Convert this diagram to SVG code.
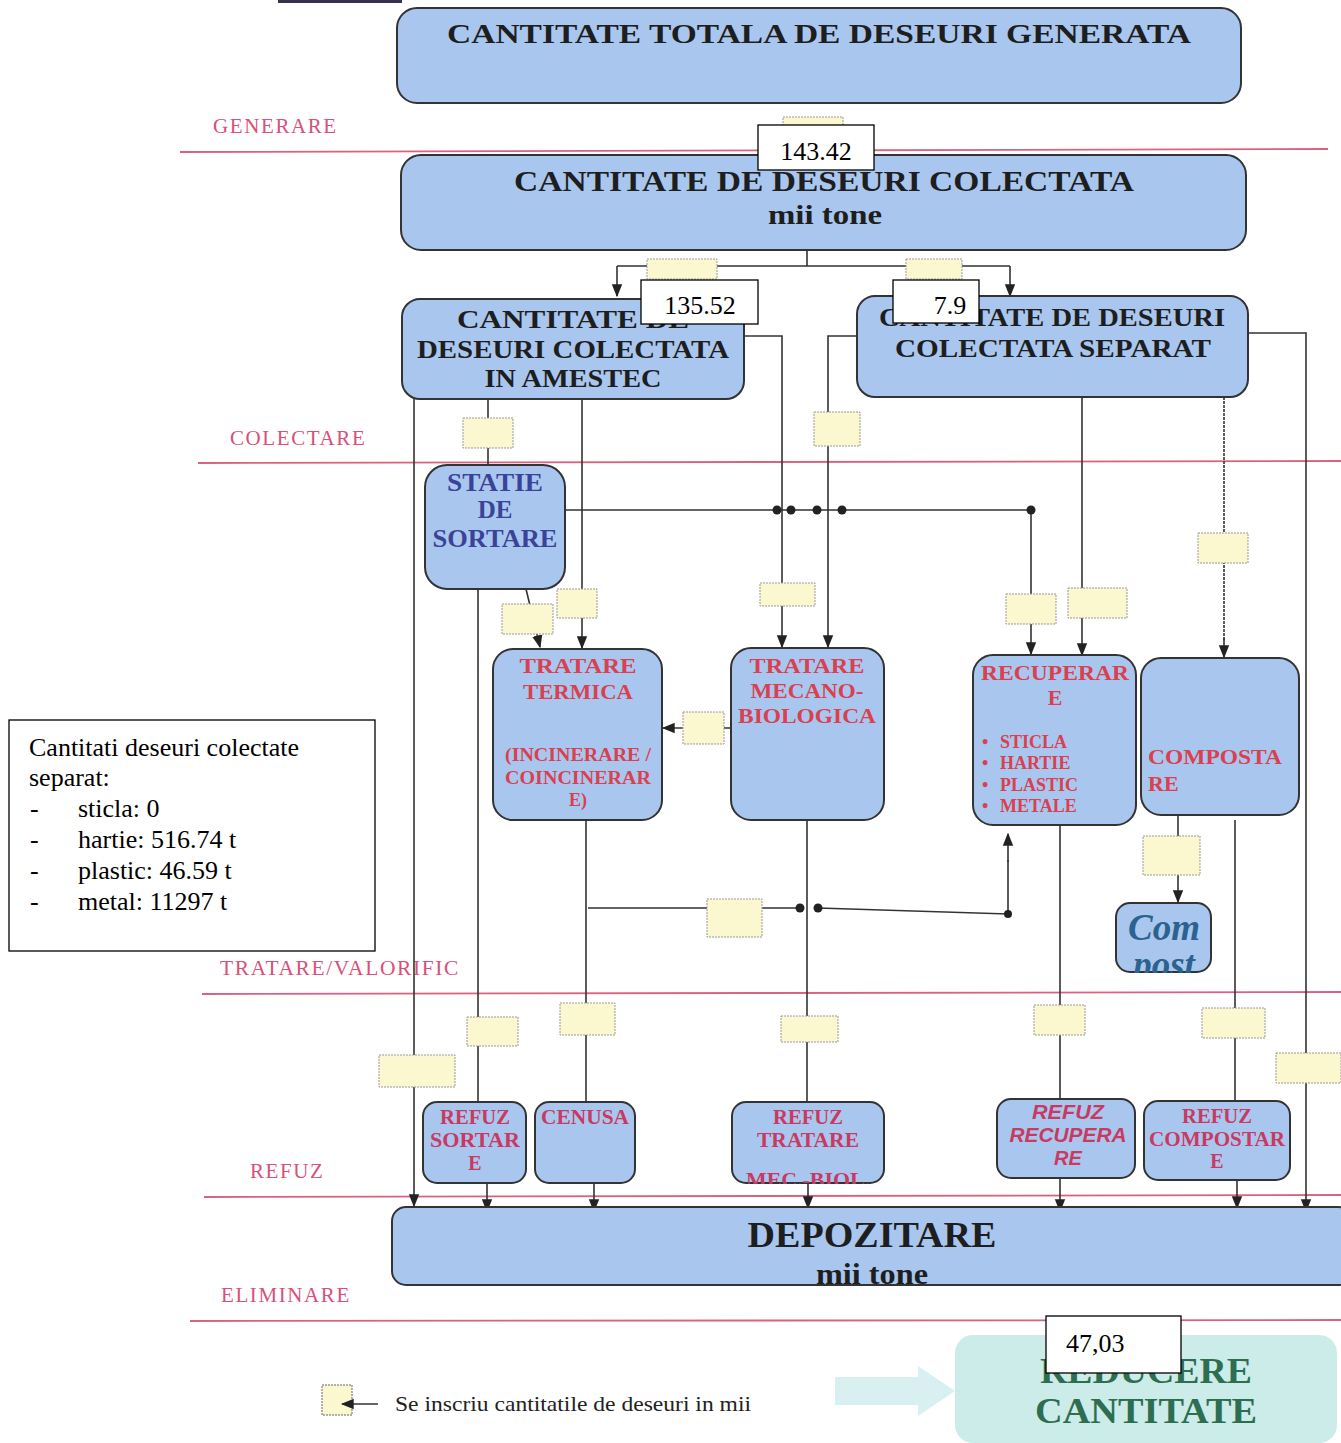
<svg xmlns="http://www.w3.org/2000/svg" width="1341" height="1443" viewBox="0 0 1341 1443">
<style>
.box{fill:#a9c7ee;stroke:#333;stroke-width:2}
.yb{fill:#fbf8d0;stroke:#999;stroke-width:1;stroke-dasharray:2 1}
.wl{fill:#fff;stroke:#000;stroke-width:1.3}
.ln{fill:none;stroke:#333;stroke-width:1.6}
.pk{stroke:#dc6080;stroke-width:1.8}
.stage{font-family:"Liberation Serif",serif;font-size:21px;letter-spacing:1.6px;fill:#d9507a}
.tb{font-family:"Liberation Serif",serif;font-weight:bold;fill:#1e1e1e;text-anchor:middle}
.red{font-family:"Liberation Serif",serif;font-weight:bold;fill:#d94050;text-anchor:middle}
.bl{font-family:"Liberation Serif",serif;font-weight:bold;fill:#d94050;font-size:18px}
.mag{font-family:"Liberation Serif",serif;font-weight:bold;fill:#c83a62;text-anchor:middle;font-size:20px}
.magi{font-family:"Liberation Sans",sans-serif;font-weight:bold;font-style:italic;fill:#c83a62;text-anchor:middle;font-size:20px}
.num{font-family:"Liberation Serif",serif;font-size:26px;fill:#000}
.note{font-family:"Liberation Serif",serif;font-size:26px;fill:#000}
.dot{fill:#222}
</style>
<defs>
<marker id="ar2" viewBox="0 0 10 10" refX="9" refY="5" markerWidth="13" markerHeight="13" orient="auto" markerUnits="userSpaceOnUse">
<path d="M0,1 L10,5 L0,9 z" fill="#222"/>
</marker>
<clipPath id="cpComp"><rect x="1116" y="903" width="96" height="70" rx="14"/></clipPath>
<clipPath id="cpRef"><rect x="732" y="1102" width="152" height="82" rx="14"/></clipPath>
<clipPath id="cpDep"><rect x="392" y="1207" width="960" height="78" rx="14"/></clipPath>
</defs>
<rect width="1341" height="1443" fill="#fff"/>
<rect x="278" y="0" width="124" height="3" fill="#3a3050"/>

<g id="stages">
<line class="pk" x1="180" y1="152" x2="1328" y2="149"/>
<line class="pk" x1="198" y1="463" x2="1341" y2="461"/>
<line class="pk" x1="202" y1="994" x2="1341" y2="992"/>
<line class="pk" x1="204" y1="1197" x2="1341" y2="1195"/>
<line class="pk" x1="190" y1="1321" x2="1341" y2="1320"/>
<text class="stage" x="213" y="133">GENERARE</text>
<text class="stage" x="230" y="445">COLECTARE</text>
<text class="stage" x="220" y="975" textLength="240" lengthAdjust="spacingAndGlyphs">TRATARE/VALORIFIC</text>
<text class="stage" x="250" y="1178">REFUZ</text>
<text class="stage" x="221" y="1302">ELIMINARE</text>
</g>

<g id="connectors">
<path class="ln" d="M807,250 V266 M617,266 H1010"/>
<path class="ln" d="M617,266 V296" marker-end="url(#ar2)"/>
<path class="ln" d="M1010,266 V296" marker-end="url(#ar2)"/>
<path class="ln" d="M414,399 V1206" marker-end="url(#ar2)"/>
<path class="ln" d="M488,399 V465"/>
<path class="ln" d="M582,399 V648" marker-end="url(#ar2)"/>
<path class="ln" d="M744,336 H782 V647" marker-end="url(#ar2)"/>
<path class="ln" d="M857,336 H828 V647" marker-end="url(#ar2)"/>
<path class="ln" d="M1082,397 V655" marker-end="url(#ar2)"/>
<path class="ln" d="M1224,397 V640" stroke-dasharray="3 1"/>
<path class="ln" d="M1224,638 V657" marker-end="url(#ar2)"/>
<path class="ln" d="M1248,333 H1306 V1211" marker-end="url(#ar2)"/>
<path class="ln" d="M565,510 H1031 V654" stroke-width="1.3" marker-end="url(#ar2)"/>
<circle class="dot" cx="777" cy="510" r="4.5"/><circle class="dot" cx="791" cy="510" r="4.5"/><circle class="dot" cx="817" cy="510" r="4.5"/><circle class="dot" cx="842" cy="510" r="4.5"/><circle class="dot" cx="1031" cy="510" r="4.5"/>
<path class="ln" d="M478,589 V1102"/>
<path class="ln" d="M526,589 L540,647" marker-end="url(#ar2)"/>
<path class="ln" d="M731,728 H663" marker-end="url(#ar2)"/>
<path class="ln" d="M586,820 V1102"/>
<path class="ln" d="M588,908 H800 M818,908 L1008,914 V860" stroke-width="1.3"/>
<path class="ln" d="M1008,862 V834" marker-end="url(#ar2)"/>
<circle class="dot" cx="800" cy="908" r="4.5"/><circle class="dot" cx="818" cy="908" r="4.5"/><circle class="dot" cx="1008" cy="914" r="4"/>
<path class="ln" d="M807,820 V1102"/>
<path class="ln" d="M1060,825 V1099"/>
<path class="ln" d="M1178,815 V902" marker-end="url(#ar2)"/>
<path class="ln" d="M1235,820 V1101"/>
<path class="ln" d="M487,1183 V1211" marker-end="url(#ar2)"/>
<path class="ln" d="M594,1183 V1211" marker-end="url(#ar2)"/>
<path class="ln" d="M808,1183 V1208" marker-end="url(#ar2)"/>
<path class="ln" d="M1060,1178 V1211" marker-end="url(#ar2)"/>
<path class="ln" d="M1237,1180 V1208" marker-end="url(#ar2)"/>
</g>

<g id="qty">
<rect class="yb" x="783" y="117" width="60" height="12"/>
<rect class="yb" x="647" y="259" width="70" height="20"/>
<rect class="yb" x="906" y="259" width="56" height="20"/>
<rect class="yb" x="463" y="418" width="50" height="30"/>
<rect class="yb" x="814" y="412" width="46" height="34"/>
<rect class="yb" x="502" y="604" width="51" height="30"/>
<rect class="yb" x="557" y="589" width="40" height="29"/>
<rect class="yb" x="760" y="583" width="55" height="23"/>
<rect class="yb" x="1006" y="594" width="50" height="30"/>
<rect class="yb" x="1068" y="588" width="59" height="30"/>
<rect class="yb" x="1198" y="533" width="50" height="30"/>
<rect class="yb" x="683" y="712" width="41" height="32"/>
<rect class="yb" x="707" y="899" width="55" height="38"/>
<rect class="yb" x="1143" y="836" width="57" height="39"/>
<rect class="yb" x="379" y="1055" width="76" height="32"/>
<rect class="yb" x="467" y="1017" width="51" height="29"/>
<rect class="yb" x="560" y="1003" width="55" height="32"/>
<rect class="yb" x="781" y="1016" width="57" height="26"/>
<rect class="yb" x="1034" y="1005" width="51" height="30"/>
<rect class="yb" x="1202" y="1008" width="63" height="30"/>
<rect class="yb" x="1276" y="1053" width="65" height="30"/>
</g>

<g id="n-total">
<rect class="box" x="397" y="8" width="844" height="95" rx="20"/>
<text class="tb" x="819" y="43" font-size="28" textLength="744" lengthAdjust="spacingAndGlyphs">CANTITATE TOTALA DE DESEURI GENERATA</text>
</g>

<g id="n-colectata">
<rect class="box" x="401" y="155" width="845" height="95" rx="20"/>
<text class="tb" x="824" y="191" font-size="29" textLength="620" lengthAdjust="spacingAndGlyphs">CANTITATE DE DESEURI COLECTATA</text>
<text class="tb" x="825" y="224" font-size="28" textLength="114" lengthAdjust="spacingAndGlyphs">mii tone</text>
</g>

<g id="n-amestec">
<rect class="box" x="402" y="299" width="342" height="100" rx="18"/>
<text class="tb" x="573" y="328" font-size="26" textLength="232" lengthAdjust="spacingAndGlyphs">CANTITATE DE</text>
<text class="tb" x="573" y="358" font-size="26" textLength="312" lengthAdjust="spacingAndGlyphs">DESEURI COLECTATA</text>
<text class="tb" x="573" y="387" font-size="26" textLength="177" lengthAdjust="spacingAndGlyphs">IN AMESTEC</text>
</g>

<g id="n-separat">
<rect class="box" x="857" y="296" width="391" height="101" rx="18"/>
<text class="tb" x="1052" y="326" font-size="26" textLength="346" lengthAdjust="spacingAndGlyphs">CANTITATE DE DESEURI</text>
<text class="tb" x="1053" y="357" font-size="26" textLength="316" lengthAdjust="spacingAndGlyphs">COLECTATA SEPARAT</text>
</g>

<g id="n-statie">
<rect class="box" x="425" y="465" width="140" height="124" rx="22"/>
<text class="tb" x="495" y="491" font-size="25" style="fill:#3b4399" textLength="96" lengthAdjust="spacingAndGlyphs">STATIE</text>
<text class="tb" x="495" y="518" font-size="25" style="fill:#3b4399">DE</text>
<text class="tb" x="495" y="547" font-size="25" style="fill:#3b4399" textLength="125" lengthAdjust="spacingAndGlyphs">SORTARE</text>
</g>

<g id="n-termica">
<rect class="box" x="493" y="649" width="169" height="171" rx="20"/>
<text class="red" x="578" y="673" font-size="22" textLength="117" lengthAdjust="spacingAndGlyphs">TRATARE</text>
<text class="red" x="578" y="699" font-size="22" textLength="110" lengthAdjust="spacingAndGlyphs">TERMICA</text>
<text class="red" x="578" y="761" font-size="18" textLength="146" lengthAdjust="spacingAndGlyphs">(INCINERARE /</text>
<text class="red" x="578" y="784" font-size="18" textLength="146" lengthAdjust="spacingAndGlyphs">COINCINERAR</text>
<text class="red" x="578" y="806" font-size="18">E)</text>
</g>

<g id="n-mecano">
<rect class="box" x="731" y="648" width="153" height="172" rx="20"/>
<text class="red" x="807" y="673" font-size="22" textLength="115" lengthAdjust="spacingAndGlyphs">TRATARE</text>
<text class="red" x="807" y="698" font-size="22" textLength="113" lengthAdjust="spacingAndGlyphs">MECANO-</text>
<text class="red" x="807" y="723" font-size="22" textLength="138" lengthAdjust="spacingAndGlyphs">BIOLOGICA</text>
</g>

<g id="n-recuperare">
<rect class="box" x="973" y="655" width="163" height="170" rx="20"/>
<text class="red" x="1055" y="680" font-size="22" textLength="148" lengthAdjust="spacingAndGlyphs">RECUPERAR</text>
<text class="red" x="1055" y="705" font-size="22">E</text>
<text class="bl" x="982" y="748">•</text><text class="bl" x="1000" y="748">STICLA</text>
<text class="bl" x="982" y="769">•</text><text class="bl" x="1000" y="769">HARTIE</text>
<text class="bl" x="982" y="791">•</text><text class="bl" x="1000" y="791">PLASTIC</text>
<text class="bl" x="982" y="812">•</text><text class="bl" x="1000" y="812">METALE</text>
</g>

<g id="n-compostare">
<rect class="box" x="1141" y="658" width="158" height="157" rx="20"/>
<text class="red" x="1148" y="764" font-size="22" style="text-anchor:start" textLength="134" lengthAdjust="spacingAndGlyphs">COMPOSTA</text>
<text class="red" x="1148" y="791" font-size="22" style="text-anchor:start">RE</text>
</g>

<g id="n-compost">
<rect class="box" x="1116" y="903" width="95" height="69" rx="14"/>
<g clip-path="url(#cpComp)">
<text x="1164" y="940" font-family="Liberation Serif,serif" font-weight="bold" font-style="italic" font-size="37" fill="#2c628e" text-anchor="middle">Com</text>
<text x="1164" y="977" font-family="Liberation Serif,serif" font-weight="bold" font-style="italic" font-size="37" fill="#2c628e" text-anchor="middle">post</text>
</g>
</g>

<g id="n-refuz-sortare">
<rect class="box" x="423" y="1102" width="103" height="81" rx="14"/>
<text class="mag" x="475" y="1124" textLength="70" lengthAdjust="spacingAndGlyphs">REFUZ</text>
<text class="mag" x="475" y="1147" textLength="90" lengthAdjust="spacingAndGlyphs">SORTAR</text>
<text class="mag" x="475" y="1170">E</text>
</g>

<g id="n-cenusa">
<rect class="box" x="535" y="1102" width="100" height="81" rx="14"/>
<text class="mag" x="585" y="1124" textLength="88" lengthAdjust="spacingAndGlyphs">CENUSA</text>
</g>

<g id="n-refuz-mec">
<rect class="box" x="732" y="1102" width="152" height="81" rx="14"/>
<text class="mag" x="808" y="1124" textLength="70" lengthAdjust="spacingAndGlyphs">REFUZ</text>
<text class="mag" x="808" y="1147" textLength="102" lengthAdjust="spacingAndGlyphs">TRATARE</text>
<g clip-path="url(#cpRef)"><text class="mag" x="808" y="1187" textLength="124" lengthAdjust="spacingAndGlyphs">MEC.-BIOL.</text></g>
</g>

<g id="n-refuz-rec">
<rect class="box" x="997" y="1099" width="138" height="79" rx="14"/>
<text class="magi" x="1068" y="1119" textLength="72" lengthAdjust="spacingAndGlyphs">REFUZ</text>
<text class="magi" x="1068" y="1142" textLength="117" lengthAdjust="spacingAndGlyphs">RECUPERA</text>
<text class="magi" x="1068" y="1165">RE</text>
</g>

<g id="n-refuz-comp">
<rect class="box" x="1144" y="1101" width="146" height="79" rx="14"/>
<text class="mag" x="1217" y="1123" textLength="70" lengthAdjust="spacingAndGlyphs">REFUZ</text>
<text class="mag" x="1217" y="1146" textLength="136" lengthAdjust="spacingAndGlyphs">COMPOSTAR</text>
<text class="mag" x="1217" y="1168">E</text>
</g>

<g id="n-depozitare">
<rect class="box" x="392" y="1207" width="960" height="78" rx="14"/>
<g clip-path="url(#cpDep)">
<text class="tb" x="872" y="1247" font-size="36" textLength="249" lengthAdjust="spacingAndGlyphs">DEPOZITARE</text>
<text class="tb" x="872" y="1284" font-size="30" textLength="112" lengthAdjust="spacingAndGlyphs">mii tone</text>
</g>
</g>

<g id="n-reducere">
<path d="M835,1377 H918 V1366 L955,1391 L918,1416 V1405 H835 Z" fill="#d8f0f2"/>
<rect x="955" y="1335" width="382" height="108" rx="18" fill="#cbece9"/>
<text x="1146" y="1383" font-family="Liberation Serif,serif" font-weight="bold" font-size="36" fill="#2e6e50" text-anchor="middle" textLength="212" lengthAdjust="spacingAndGlyphs">REDUCERE</text>
<text x="1146" y="1423" font-family="Liberation Serif,serif" font-weight="bold" font-size="36" fill="#2e6e50" text-anchor="middle" textLength="222" lengthAdjust="spacingAndGlyphs">CANTITATE</text>
</g>

<g id="values">
<rect class="wl" x="758" y="125" width="116" height="45"/>
<text class="num" x="816" y="160" text-anchor="middle">143.42</text>
<rect class="wl" x="641" y="280" width="117" height="44"/>
<text class="num" x="700" y="314" text-anchor="middle">135.52</text>
<rect class="wl" x="893" y="280" width="86" height="43"/>
<text class="num" x="950" y="314" text-anchor="middle">7.9</text>
<rect class="wl" x="1046" y="1316" width="135" height="57"/>
<text class="num" x="1066" y="1352">47,03</text>
</g>

<g id="note">
<rect class="wl" x="9" y="720" width="366" height="231"/>
<text class="note" x="29" y="756">Cantitati deseuri colectate</text>
<text class="note" x="29" y="786">separat:</text>
<text class="note" x="30" y="817">-</text><text class="note" x="78" y="817">sticla: 0</text>
<text class="note" x="30" y="848">-</text><text class="note" x="78" y="848">hartie: 516.74 t</text>
<text class="note" x="30" y="879">-</text><text class="note" x="78" y="879">plastic: 46.59 t</text>
<text class="note" x="30" y="910">-</text><text class="note" x="78" y="910">metal: 11297 t</text>
</g>

<g id="legend">
<rect class="yb" x="322" y="1385" width="30" height="30" style="stroke:#666"/>
<path class="ln" d="M378,1404 H342" marker-end="url(#ar2)"/>
<text x="395" y="1411" font-family="Liberation Serif,serif" font-size="22" fill="#222" textLength="356" lengthAdjust="spacingAndGlyphs">Se inscriu cantitatile de deseuri in mii</text>
</g>
</svg>
